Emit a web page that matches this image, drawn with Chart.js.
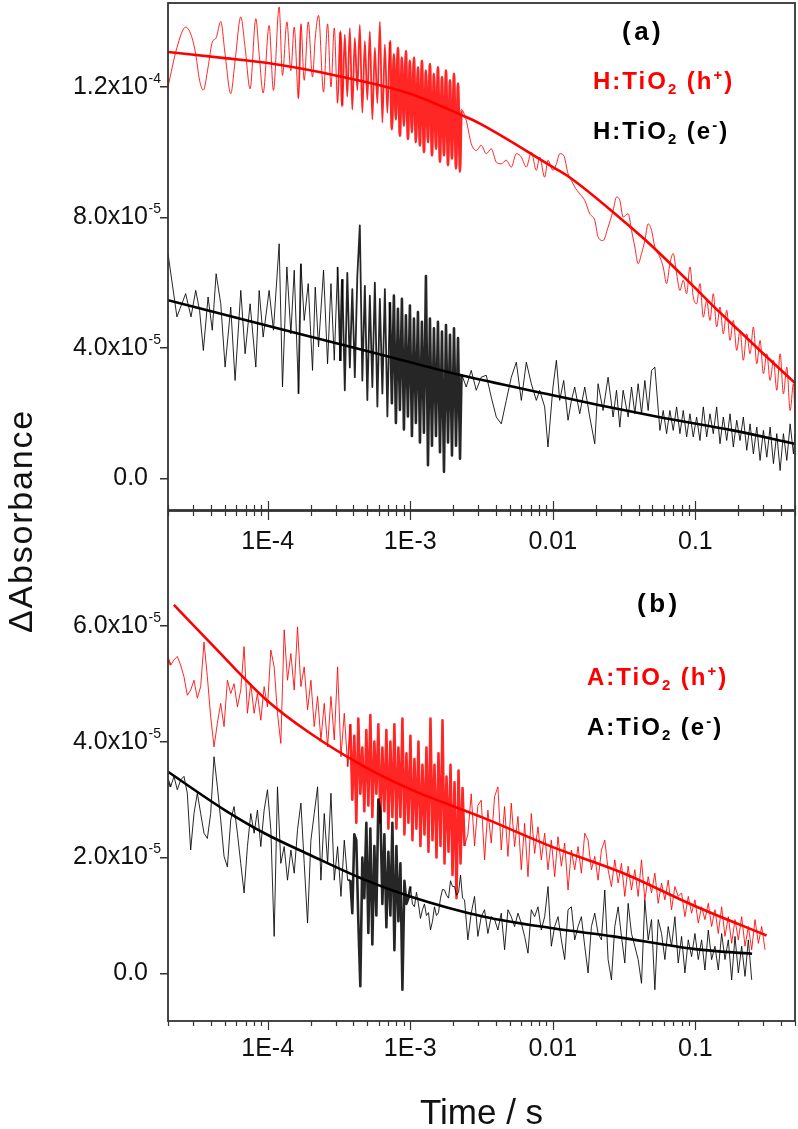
<!DOCTYPE html>
<html>
<head>
<meta charset="utf-8">
<title>Transient absorption decays</title>
<script src="https://cdn.jsdelivr.net/npm/chart.js@4.4.1/dist/chart.umd.min.js"></script>
<style>
  html, body { margin: 0; padding: 0; background: #fff; overflow: hidden; }
  #wrap { position: relative; width: 798px; height: 1129px; }
  canvas { position: absolute; left: 0; top: 0; }
  .lab { position: absolute; font-family: "Liberation Sans", Arial, sans-serif; font-weight: bold;
         font-size: 24px; line-height: 24px; letter-spacing: 2px; white-space: nowrap; color: #000; }
  .lab sub { font-size: 0.62em; vertical-align: -0.35em; line-height: 0; }
  .lab sup { font-size: 0.62em; vertical-align: 0.62em; line-height: 0; }
  .lab.red { color: #ff0000; }
  .lab.tag { font-size: 26px; letter-spacing: 3.5px; }
  #ytitle { position: absolute; left: 20px; top: 521px; transform: translate(-50%, -50%) rotate(-90deg);
            font-family: "Liberation Sans", Arial, sans-serif; font-size: 34px; line-height: 34px;
            letter-spacing: 1.8px; white-space: nowrap; color: #111; }
</style>
</head>
<body>
<div id="wrap">
  <canvas id="chartA" width="798" height="1129"></canvas>
  <canvas id="chartB" width="798" height="1135"></canvas>
  <div id="ytitle">&Delta;Absorbance</div>
  <div class="lab tag" style="left:622px; top:19px;">(a)</div>
  <div class="lab red" style="left:593px; top:69px;">H:TiO<sub>2</sub> (h<sup>+</sup>)</div>
  <div class="lab" style="left:593px; top:119px;">H:TiO<sub>2</sub> (e<sup>-</sup>)</div>
  <div class="lab tag" style="left:637px; top:591px;">(b)</div>
  <div class="lab red" style="left:587px; top:665px;">A:TiO<sub>2</sub> (h<sup>+</sup>)</div>
  <div class="lab" style="left:587px; top:715px;">A:TiO<sub>2</sub> (e<sup>-</sup>)</div>
</div>
<script>
// all absorbance values are in units of 1e-5
const FONT = '"Liberation Sans", Arial, sans-serif';

// ---- x axis (time / s, log) ----
const xTickVals = [2e-5, 3e-5, 4e-5, 5e-5, 6e-5, 7e-5, 8e-5, 9e-5,
  1e-4, 2e-4, 3e-4, 4e-4, 5e-4, 6e-4, 7e-4, 8e-4, 9e-4,
  1e-3, 2e-3, 3e-3, 4e-3, 5e-3, 6e-3, 7e-3, 8e-3, 9e-3,
  1e-2, 2e-2, 3e-2, 4e-2, 5e-2, 6e-2, 7e-2, 8e-2, 9e-2,
  0.1, 0.2, 0.3, 0.4, 0.5];
const xMajor = [1e-4, 1e-3, 1e-2, 0.1];
const xMajorLabels = ['1E-4', '1E-3', '0.01', '0.1'];

// ---- y axes: [mantissa, exponent] ----
const yTicksA = [0, 4, 8, 12];
const yLabelsA = [['0.0', ''], ['4.0x10', '-5'], ['8.0x10', '-5'], ['1.2x10', '-4']];
const yTicksB = [0, 2, 4, 6];
const yLabelsB = [['0.0', ''], ['2.0x10', '-5'], ['4.0x10', '-5'], ['6.0x10', '-5']];

// ---- panel (a): H:TiO2 ----
const timeA = [
  2.0e-5, 2.31e-5, 2.66e-5, 2.90e-5, 3.13e-5, 3.33e-5, 3.54e-5, 3.82e-5, 4.09e-5, 4.35e-5,
  4.69e-5, 5.03e-5, 5.51e-5, 5.91e-5, 6.48e-5, 6.95e-5, 7.53e-5, 8.26e-5, 8.72e-5, 9.30e-5,
  1.024e-4, 1.098e-4, 1.204e-4, 1.271e-4, 1.364e-4, 1.455e-4, 1.536e-4, 1.646e-4, 1.711e-4, 1.805e-4,
  1.926e-4, 2.064e-4, 2.157e-4, 2.275e-4, 2.466e-4, 2.632e-4, 2.781e-4, 2.933e-4, 3.094e-4,
  3.232e-4, 3.339e-4, 3.477e-4, 3.620e-4, 3.770e-4, 3.925e-4, 4.087e-4, 4.256e-4, 4.431e-4, 4.614e-4,
  4.805e-4, 5.003e-4, 5.210e-4, 5.425e-4, 5.649e-4, 5.882e-4, 6.125e-4, 6.378e-4, 6.641e-4, 6.916e-4,
  7.201e-4, 7.438e-4, 7.683e-4, 7.935e-4, 8.197e-4, 8.467e-4, 8.745e-4, 9.033e-4, 9.328e-4, 9.634e-4,
  9.952e-4, 1.028e-3, 1.062e-3, 1.096e-3, 1.133e-3, 1.170e-3, 1.208e-3, 1.248e-3, 1.289e-3, 1.332e-3,
  1.375e-3, 1.421e-3, 1.467e-3, 1.516e-3, 1.565e-3, 1.617e-3, 1.670e-3, 1.725e-3, 1.782e-3, 1.841e-3,
  1.901e-3, 1.963e-3, 2.028e-3, 2.095e-3, 2.164e-3, 2.235e-3, 2.290e-3,
  2.471e-3, 2.679e-3, 2.905e-3, 3.149e-3, 3.415e-3, 3.702e-3, 4.015e-3, 4.353e-3, 4.720e-3, 5.118e-3,
  5.549e-3, 6.016e-3, 6.524e-3, 7.072e-3, 7.668e-3, 8.089e-3, 8.772e-3, 9.254e-3, 1.003e-2, 1.060e-2,
  1.118e-2, 1.193e-2, 1.279e-2, 1.351e-2, 1.425e-2, 1.545e-2, 1.676e-2, 1.817e-2, 1.970e-2, 2.078e-2,
  2.253e-2, 2.443e-2, 2.649e-2, 2.799e-2, 2.952e-2, 3.114e-2, 3.377e-2, 3.568e-2, 3.764e-2, 3.970e-2,
  4.194e-2, 4.424e-2, 4.667e-2, 4.931e-2, 5.201e-2, 5.640e-2, 5.949e-2, 6.285e-2,
  6.630e-2, 6.994e-2, 7.390e-2, 7.795e-2, 8.222e-2, 8.687e-2, 9.165e-2, 9.667e-2, 0.1021, 0.1077,
  0.1137, 0.1201, 0.1266, 0.1336, 0.1411, 0.1489, 0.1571, 0.1660, 0.1751, 0.1847,
  0.1951, 0.2058, 0.2171, 0.2294, 0.2420, 0.2553, 0.2697, 0.2844, 0.3001, 0.3171,
  0.3345, 0.3529, 0.3726, 0.3931, 0.4147, 0.4381, 0.4622, 0.4876, 0.5
];
const holeA = [
  12.0, 13.2, 13.83, 13.6, 13.0, 12.2, 11.9, 12.6, 13.37, 13.5,
  14.0, 13.0, 11.79, 12.8, 14.14, 13.2, 11.94, 14.09, 13.0, 11.81,
  13.88, 11.89, 14.45, 12.35, 13.99, 12.5, 13.83, 11.64, 13.93, 12.2,
  13.99, 12.3, 13.5, 14.19, 11.84, 13.93, 12.0, 13.8, 11.5,
  13.7, 11.4, 13.6, 11.7, 13.8, 11.3, 13.5, 11.9, 13.9, 11.2,
  13.4, 11.6, 13.7, 11.0, 13.2, 11.5, 14.0, 10.9, 13.3, 11.2,
  13.4, 10.7, 13.0, 11.0, 13.2, 10.5, 12.9, 10.8, 13.1, 10.4,
  12.8, 10.6, 12.9, 10.3, 12.6, 10.2, 12.8, 10.0, 12.5, 10.3,
  12.7, 9.9, 12.4, 10.1, 12.6, 9.7, 12.3, 9.9, 12.5, 9.6,
  12.2, 9.8, 12.4, 9.5, 12.1, 9.4, 11.3,
  10.97, 10.26, 10.05, 10.21, 9.95, 10.10, 9.69, 9.64, 9.75, 9.54,
  9.95, 9.85, 9.54, 10.0, 9.44, 9.85, 9.23, 9.75, 9.44, 9.64,
  9.95, 9.90, 9.34, 9.13, 8.93, 8.72, 8.52, 8.11, 7.91, 7.40,
  7.29, 7.70, 8.21, 8.62, 8.52, 8.01, 8.11, 7.60, 7.09, 6.58,
  6.89, 7.29, 7.80, 7.60, 7.09, 6.78, 6.48, 5.97,
  6.58, 6.89, 6.27, 5.76, 6.07, 5.66, 6.48, 5.56, 5.35, 5.97,
  4.94, 5.45, 4.84, 5.66, 4.64, 5.25, 4.43, 5.15, 4.23, 4.84,
  3.92, 4.54, 3.62, 4.43, 3.82, 4.64, 3.51, 4.23, 3.21, 3.82,
  3.00, 3.62, 2.70, 3.82, 2.59, 3.41, 2.08, 2.90, 1.78
];
const elecA = [
  6.89, 4.95, 5.66, 4.95, 5.76, 5.15, 3.92, 5.56, 4.54, 6.27,
  5.35, 3.41, 5.25, 3.00, 5.76, 3.82, 5.35, 3.41, 5.76, 4.33,
  5.76, 4.54, 7.19, 2.80, 6.48, 4.43, 6.38, 2.59, 6.58, 4.84,
  5.97, 3.31, 5.86, 4.03, 6.38, 3.51, 5.97, 3.62, 6.48,
  3.6, 6.1, 2.7, 6.3, 3.4, 5.8, 3.1, 6.2, 7.75, 3.0,
  5.9, 2.4, 5.6, 2.8, 6.0, 2.2, 5.5, 2.6, 5.8, 1.9,
  5.4, 2.3, 5.6, 1.7, 5.2, 2.1, 5.5, 1.5, 5.0, 1.9,
  5.3, 1.3, 4.9, 1.7, 5.1, 1.1, 4.8, 1.4, 6.2, 0.4,
  4.9, 1.0, 4.6, 1.3, 4.8, 0.8, 4.5, 0.2, 4.7, 1.1,
  4.4, 0.7, 4.6, 1.0, 4.3, 0.6, 3.2,
  2.80, 3.31, 2.70, 3.10, 3.16, 2.49, 1.88, 1.67, 2.39, 3.10,
  3.56, 2.39, 3.56, 2.90, 2.39, 2.70, 2.19, 0.96, 2.80, 3.62,
  2.39, 3.00, 1.78, 2.39, 2.80, 1.98, 2.80, 1.88, 1.06, 2.90,
  2.08, 3.10, 1.88, 2.70, 1.57, 2.70, 1.88, 2.80, 1.98, 2.90,
  1.98, 3.00, 2.08, 3.31, 3.41, 1.47, 2.08, 1.37,
  2.08, 1.47, 2.19, 1.37, 2.08, 1.27, 1.98, 1.27, 1.88, 1.16,
  2.19, 1.27, 1.98, 1.37, 2.19, 1.06, 1.88, 1.16, 1.98, 0.96,
  1.78, 1.16, 1.88, 0.86, 1.67, 0.75, 1.57, 0.55, 1.47, 0.65,
  1.57, 0.45, 1.37, 0.24, 1.37, 0.55, 1.67, 0.75, 1.37
];
const fitTimeHoleA = [2e-5, 5e-5, 1e-4, 3e-4, 1e-3, 2.3e-3, 3.06e-3, 1e-2, 1.31e-2, 3e-2, 4.5e-2, 0.1, 0.132, 0.2, 0.3, 0.5];
const fitHoleA = [13.07, 12.88, 12.73, 12.35, 11.79, 11.13, 10.88, 9.54, 9.23, 7.96, 7.29, 5.83, 5.30, 4.55, 3.82, 2.92];
const fitTimeElecA = [2e-5, 1e-4, 3.45e-4, 1e-3, 2.28e-3, 1e-2, 2.13e-2, 6e-2, 0.183, 0.5];
const fitElecA = [5.46, 4.68, 4.08, 3.56, 3.16, 2.55, 2.24, 1.85, 1.47, 1.06];

// ---- panel (b): A:TiO2 ----
const timeB = [
  2.0e-5, 2.087e-5, 2.202e-5, 2.324e-5, 2.453e-5, 2.589e-5, 2.732e-5, 2.884e-5, 3.043e-5, 3.212e-5,
  3.390e-5, 3.578e-5, 3.776e-5, 3.985e-5, 4.207e-5, 4.440e-5, 4.686e-5, 4.945e-5, 5.219e-5, 5.509e-5,
  5.814e-5, 6.137e-5, 6.476e-5, 6.835e-5, 7.214e-5, 7.614e-5, 8.036e-5, 8.481e-5, 8.951e-5, 9.449e-5,
  9.972e-5, 1.053e-4, 1.111e-4, 1.172e-4, 1.237e-4, 1.306e-4, 1.378e-4, 1.455e-4, 1.536e-4, 1.620e-4,
  1.711e-4, 1.805e-4, 1.905e-4, 2.011e-4, 2.122e-4, 2.240e-4, 2.364e-4, 2.495e-4, 2.634e-4, 2.780e-4,
  2.933e-4, 3.095e-4, 3.268e-4, 3.448e-4, 3.639e-4,
  3.800e-4, 3.925e-4, 4.054e-4, 4.187e-4, 4.325e-4, 4.467e-4, 4.614e-4, 4.766e-4, 4.923e-4, 5.085e-4,
  5.252e-4, 5.425e-4, 5.603e-4, 5.788e-4, 5.978e-4, 6.175e-4, 6.378e-4, 6.588e-4, 6.805e-4, 7.029e-4,
  7.260e-4, 7.499e-4, 7.745e-4, 8.000e-4, 8.263e-4, 8.535e-4, 8.816e-4, 9.106e-4, 9.406e-4, 9.715e-4,
  1.0035e-3, 1.0365e-3, 1.0706e-3, 1.1058e-3, 1.1422e-3, 1.1798e-3, 1.2186e-3, 1.2587e-3, 1.3001e-3, 1.3429e-3,
  1.3871e-3, 1.4327e-3, 1.4798e-3, 1.5285e-3, 1.5788e-3, 1.6307e-3, 1.6844e-3, 1.7398e-3, 1.7970e-3, 1.8561e-3,
  1.9172e-3, 1.9803e-3, 2.0454e-3, 2.1127e-3, 2.1822e-3, 2.2540e-3, 2.3282e-3, 2.4048e-3,
  2.537e-3, 2.678e-3, 2.826e-3, 2.983e-3, 3.148e-3, 3.322e-3, 3.506e-3, 3.701e-3, 3.906e-3, 4.122e-3,
  4.351e-3, 4.592e-3, 4.846e-3, 5.115e-3, 5.398e-3, 5.697e-3, 6.013e-3, 6.346e-3, 6.698e-3, 7.069e-3,
  7.461e-3, 7.874e-3, 8.310e-3, 8.771e-3, 9.257e-3, 9.770e-3, 1.0311e-2, 1.0883e-2, 1.1486e-2, 1.2122e-2,
  1.2794e-2, 1.3503e-2, 1.4251e-2, 1.5041e-2, 1.5874e-2, 1.6754e-2, 1.7682e-2, 1.8662e-2, 1.9696e-2, 2.0787e-2,
  2.1939e-2, 2.3155e-2, 2.4438e-2, 2.5792e-2, 2.7221e-2, 2.8730e-2, 3.0322e-2, 3.2002e-2, 3.3775e-2, 3.5647e-2,
  3.7622e-2, 3.9707e-2, 4.1907e-2, 4.4229e-2, 4.6680e-2, 4.9267e-2, 5.1997e-2, 5.4878e-2, 5.7919e-2, 6.1128e-2,
  6.4515e-2, 6.8090e-2, 7.1863e-2, 7.5845e-2, 8.0048e-2, 8.4484e-2, 8.9166e-2, 9.4107e-2, 9.9322e-2, 0.10483,
  0.11063, 0.11676, 0.12323, 0.13006, 0.13727, 0.14488, 0.15291, 0.16138, 0.17032, 0.17976,
  0.18972, 0.20023, 0.21133, 0.22304, 0.23540, 0.24844, 0.26221, 0.27674, 0.29207, 0.30826
];
const holeB = [
  5.44, 5.32, 5.41, 5.47, 5.32, 5.12, 4.80, 4.89, 5.06, 4.75,
  4.95, 5.72, 5.12, 4.43, 3.91, 4.32, 4.66, 4.26, 5.06, 4.83,
  5.00, 4.60, 4.89, 5.64, 4.49, 5.00, 4.49, 4.83, 4.37, 4.95,
  4.60, 5.58, 5.29, 4.49, 3.97, 5.93, 5.06, 5.52, 4.89, 5.98,
  4.95, 5.29, 4.55, 5.06, 4.26, 4.78, 4.03, 4.66, 3.91, 4.78,
  4.03, 5.29, 3.74, 4.49, 3.57,
  4.3, 3.0, 4.1, 2.6, 4.4, 3.1, 3.9, 2.8, 4.2, 2.9,
  4.46, 2.7, 4.0, 3.1, 4.3, 2.6, 3.9, 2.8, 4.2, 2.5,
  4.0, 2.7, 4.3, 2.5, 3.9, 2.7, 4.4, 2.4, 3.8, 2.6,
  4.1, 2.3, 3.7, 2.5, 4.0, 2.2, 3.6, 2.4, 3.9, 2.1,
  4.4, 2.3, 3.6, 2.0, 3.8, 2.2, 4.37, 1.9, 3.4, 2.1,
  3.6, 1.7, 3.3, 1.3, 3.5, 1.9, 3.2, 2.2,
  2.4, 3.1, 2.2, 2.9,
  2.99, 1.96, 2.82, 2.25, 3.05, 3.22, 2.13, 2.88, 2.02, 2.94,
  2.19, 2.71, 1.79, 2.59, 1.67, 2.76, 2.07, 2.53, 1.96, 2.42,
  1.79, 2.30, 1.67, 2.36, 1.85, 2.25, 1.44, 2.13, 1.79, 2.19,
  1.73, 2.42, 2.30, 1.79, 2.02, 1.61, 2.13, 2.30, 1.79, 1.50,
  1.96, 1.56, 1.90, 1.33, 1.85, 1.44, 1.79, 1.33, 1.96, 1.27,
  1.67, 1.39, 1.73, 1.21, 1.56, 1.27, 1.61, 1.10, 1.50, 1.33,
  1.39, 0.98, 1.33, 1.04, 1.27, 0.87, 1.15, 0.93, 1.21, 0.81,
  1.10, 0.69, 1.15, 0.64, 0.98, 0.52, 0.93, 0.58, 0.98, 0.47,
  0.81, 0.41, 0.93, 0.52, 0.81, 0.41
];
const elecB = [
  3.34, 3.22, 3.40, 3.17, 3.34, 3.40, 3.11, 2.13, 2.76, 3.11,
  2.76, 2.42, 2.33, 2.76, 3.74, 3.22, 2.65, 2.02, 1.84, 2.65,
  2.88, 2.42, 1.90, 1.39, 2.19, 2.76, 2.42, 2.82, 2.19, 2.82,
  3.17, 2.48, 0.64, 3.22, 1.90, 2.19, 1.61, 2.13, 1.73, 2.48,
  2.94, 1.90, 0.87, 2.30, 2.76, 3.22, 1.61, 2.76, 1.90, 3.11,
  1.61, 2.19, 1.33, 2.30, 1.61,
  1.61, 1.04, 2.4, 2.3, 0.9, -0.22, 2.0, 1.3, 2.6, 0.7,
  2.5, 0.5, 2.2, 1.0, 3.0, 2.8, 1.2, 2.4, 0.8, 2.1,
  1.0, 2.6, 0.4, 2.2, 0.9, 1.9, -0.28, 1.6, 1.2, 1.3,
  1.5, 1.2, 1.15, 1.4, 1.2, 0.95, 1.1, 1.2, 1.0, 1.05,
  0.75, 0.9, 1.15, 1.0, 1.05, 1.3, 1.45, 1.44, 1.35, 1.3,
  1.6, 1.5, 1.5, 1.35, 1.4, 1.7, 1.3, 1.27,
  0.58, 1.04, 1.33, 0.64,
  0.98, 1.10, 0.69, 0.98, 0.93, 0.75, 1.04, 0.41, 1.10, 0.98,
  0.81, 1.04, 0.87, 0.64, 0.35, 1.10, 0.98, 1.15, 0.75, 0.98,
  1.50, 0.47, 0.81, 0.98, 0.58, 0.24, 1.10, 1.15, 0.58, 0.81,
  0.98, 0.47, 0.01, 0.81, 1.04, 0.69, 0.58, 1.44, 0.24, -0.11,
  0.81, 1.15, 0.64, 0.18, 1.21, 0.69, 0.47, 0.24, -0.17, 1.27,
  0.58, 0.93, -0.28, 0.93, 0.69, 0.24, 0.81, 0.47, 0.98, 0.18,
  0.64, 0.01, 0.58, 0.29, 0.69, 0.24, 0.58, 0.06, 0.75, 0.24,
  0.47, 0.06, 0.69, 0.24, 0.58, -0.11, 0.64, 0.01, 0.47, -0.05,
  0.58, -0.11
];
const fitTimeHoleB = [2.2e-5, 4.2e-5, 9.5e-5, 2e-4, 4.76e-4, 1e-3, 3.3e-3, 1e-2, 3.13e-2, 0.1, 0.316];
const fitHoleB = [6.36, 5.64, 4.75, 4.14, 3.57, 3.18, 2.68, 2.18, 1.73, 1.16, 0.655];
const fitTimeElecB = [2e-5, 5e-5, 9.5e-5, 2e-4, 4.76e-4, 1e-3, 3.3e-3, 1e-2, 2.66e-2, 0.1, 0.25];
const fitElecB = [3.48, 2.82, 2.42, 2.04, 1.62, 1.33, 0.98, 0.78, 0.64, 0.42, 0.34];


function pts(t, v) {
  return v.map((y, i) => ({ x: t[i], y: y }));
}

function isMajor(v) {
  return xMajor.some(m => Math.abs(v - m) < m * 1e-6);
}

// box round the plot area, log ticks on the time axis, y labels with superscripts
const frameTicks = {
  id: 'frameTicks',
  afterDraw(chart, args, opts) {
    const ctx = chart.ctx;
    const a = chart.chartArea;
    const x = chart.scales.x;
    const y = chart.scales.y;
    ctx.save();
    ctx.strokeStyle = '#333';
    ctx.lineWidth = 1.2;
    [['top', opts.tickTop], ['bottom', opts.tickBottom]].forEach(([edge, dir]) => {
      if (!dir) return;
      const y0 = edge === 'top' ? a.top : a.bottom;
      x.ticks.forEach(t => {
        const px = Math.round(x.getPixelForValue(t.value)) + 0.5;
        const len = isMajor(t.value) ? 9 : 5;
        ctx.beginPath();
        ctx.moveTo(px, y0);
        ctx.lineTo(px, y0 + dir * len);
        ctx.stroke();
      });
    });
    ctx.lineWidth = 1.8;
    ctx.strokeRect(a.left, a.top, a.right - a.left, a.bottom - a.top);

    ctx.fillStyle = '#111';
    ctx.textBaseline = 'middle';
    (opts.yTicks || []).forEach((v, i) => {
      const py = y.getPixelForValue(v);
      const [base, exp] = opts.yLabels[i];
      ctx.font = '25px ' + FONT;
      ctx.textAlign = 'right';
      ctx.fillText(base, 148, py);
      if (exp) {
        ctx.font = '14px ' + FONT;
        ctx.textAlign = 'left';
        ctx.fillText(exp, 148.5, py - 8);
      }
    });
    ctx.restore();
  }
};

// thicker strokes where the recorded trace is densely sampled
function denseWidth(until) {
  return c => {
    const r = c.p1.parsed.x / c.p0.parsed.x;
    if (c.p0.parsed.x > until) return 1;
    if (r < 1.036) return 2.6;
    if (r < 1.045) return 1.8;
    return 1;
  };
}

function dataLine(points, color, order, until, smooth) {
  return { data: points, borderColor: color, borderWidth: 1, pointRadius: 0, order: order,
           borderJoinStyle: 'round',
           tension: 0, cubicInterpolationMode: smooth ? 'monotone' : 'default',
           segment: { borderWidth: denseWidth(until) } };
}
function fitLine(points, color, order) {
  return { data: points, borderColor: color, borderWidth: 2.6, pointRadius: 0,
           cubicInterpolationMode: 'monotone', order: order };
}

function makeChart(id, p) {
  return new Chart(document.getElementById(id), {
    type: 'line',
    data: { datasets: p.datasets },
    options: {
      responsive: false,
      animation: false,
      events: [],
      layout: { padding: p.padding },
      plugins: {
        legend: { display: false },
        tooltip: { enabled: false },
        frameTicks: { tickTop: p.tickTop, tickBottom: p.tickBottom, yTicks: p.yTicks, yLabels: p.yLabels }
      },
      scales: {
        x: {
          type: 'logarithmic',
          min: 2e-5,
          max: 0.5,
          afterBuildTicks: s => { s.ticks = xTickVals.map(v => ({ value: v })); },
          afterFit: s => { s.height = p.xHeight; s.paddingLeft = 0; s.paddingRight = 0; },
          grid: { display: false, drawTicks: false },
          border: { display: false },
          ticks: {
            autoSkip: false, maxRotation: 0, minRotation: 0,
            padding: p.xPad,
            color: '#111',
            font: { family: FONT, size: 25 },
            callback: v => {
              const i = xMajor.findIndex(m => Math.abs(v - m) < m * 1e-6);
              return i < 0 ? '' : xMajorLabels[i];
            }
          },
          title: p.xTitle
        },
        y: {
          type: 'linear',
          min: p.yMin,
          max: p.yMax,
          afterBuildTicks: s => { s.ticks = p.yTicks.map(v => ({ value: v })); },
          afterFit: s => { s.width = 168; s.paddingTop = 0; s.paddingBottom = 0; },
          grid: { drawOnChartArea: false, drawTicks: true, tickLength: 8, color: '#333', lineWidth: 1.5 },
          border: { display: false },
          ticks: { display: false }
        }
      }
    },
    plugins: [frameTicks]
  });
}

makeChart('chartA', {
  padding: { left: 0, top: 3, right: 3, bottom: 529 },
  xHeight: 90, xPad: 17,
  xTitle: { display: false },
  tickTop: 0, tickBottom: -1,
  yMin: -0.97, yMax: 14.57, yTicks: yTicksA, yLabels: yLabelsA,
  datasets: [
    fitLine(pts(fitTimeElecA, fitElecA), '#000', 0),
    fitLine(pts(fitTimeHoleA, fitHoleA), '#ff0000', 1),
    dataLine(pts(timeA, elecA), 'rgba(0,0,0,0.85)', 2, 2.3e-3, false),
    dataLine(pts(timeA, holeA), 'rgba(255,0,0,0.85)', 3, 2.3e-3, true)
  ]
});

makeChart('chartB', {
  padding: { left: 0, top: 511, right: 3, bottom: 0 },
  xHeight: 114, xPad: 13,
  xTitle: { display: true, text: 'Time / s', color: '#111', font: { family: FONT, size: 35 }, padding: { top: 0, bottom: 0 } },
  tickTop: 1, tickBottom: 1,
  yMin: -0.82, yMax: 7.98, yTicks: yTicksB, yLabels: yLabelsB,
  datasets: [
    fitLine(pts(fitTimeElecB, fitElecB), '#000', 0),
    fitLine(pts(fitTimeHoleB, fitHoleB), '#ff0000', 1),
    dataLine(pts(timeB, elecB), 'rgba(0,0,0,0.85)', 2, 1e-3, false),
    dataLine(pts(timeB, holeB), 'rgba(255,0,0,0.85)', 3, 2.4e-3, false)
  ]
});
</script>
</body>
</html>
